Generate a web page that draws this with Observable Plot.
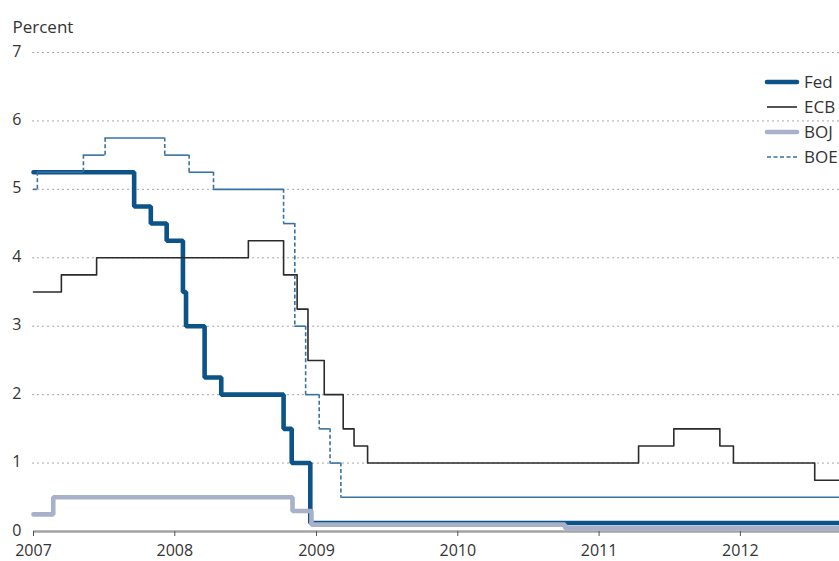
<!DOCTYPE html>
<html><head><meta charset="utf-8">
<script src="https://cdn.jsdelivr.net/npm/d3@7"></script>
<script src="https://cdn.jsdelivr.net/npm/@observablehq/plot@0.6"></script>
<style>
html,body{margin:0;padding:0;background:#fff;overflow:hidden;}
#wrap{position:relative;width:839px;height:561px;overflow:hidden;font-family:"Open Sans",sans-serif;}
#legend{position:absolute;left:0;top:0;pointer-events:none;}
</style></head><body><div id="wrap"></div>
<script>
const startDate = "2007-01-01";
const endDate = "2012-09-13";

const fedDates = ["2007-01-01","2007-09-18","2007-10-31","2007-12-11","2008-01-22","2008-01-30","2008-03-18","2008-04-30","2008-10-08","2008-10-29","2008-12-16"];
const fedRates = [5.25,4.75,4.5,4.25,3.5,3.0,2.25,2.0,1.5,1.0,0.125];

const ecbDates = ["2007-01-01","2007-03-14","2007-06-13","2008-07-09","2008-10-08","2008-11-12","2008-12-10","2009-01-21","2009-03-11","2009-04-08","2009-05-13","2011-04-13","2011-07-13","2011-11-09","2011-12-14","2012-07-11"];
const ecbRates = [3.5,3.75,4.0,4.25,3.75,3.25,2.5,2.0,1.5,1.25,1.0,1.25,1.5,1.25,1.0,0.75];

const bojDates = ["2007-01-01","2007-02-21","2008-10-31","2008-12-19","2010-10-05"];
const bojRates = [0.25,0.5,0.3,0.1,0.05];

const boeDates = ["2007-01-01","2007-01-11","2007-05-10","2007-07-05","2007-12-06","2008-02-07","2008-04-10","2008-10-08","2008-11-06","2008-12-04","2009-01-08","2009-02-05","2009-03-05"];
const boeRates = [5.0,5.25,5.5,5.75,5.5,5.25,5.0,4.5,3.0,2.0,1.5,1.0,0.5];

const yTicks = [0,1,2,3,4,5,6,7];
const xTicks = ["2007-01-01","2008-01-01","2009-01-01","2010-01-01","2011-01-01","2012-01-01"];
const xTickLabels = ["2007","2008","2009","2010","2011","2012"];

const seriesNames = ["Fed","ECB","BOJ","BOE"];
const seriesColors = ["#0c5388","#2b2b2b","#a8b1ca","#3872a3"];
const seriesWidths = [4.6,1.6,4.6,1.6];
const seriesDash = [null,null,null,"4,2.5"];

const textColor = "#333";

function steps(dates, rates) {
  const pts = dates.map((d, i) => ({date: new Date(d), rate: rates[i]}));
  pts.push({date: new Date(endDate), rate: rates[rates.length - 1]});
  return pts;
}
const fed = steps(fedDates, fedRates);
const ecb = steps(ecbDates, ecbRates);
const boj = steps(bojDates, bojRates);
const boeH = boeDates.map((d, i) => ({x1: new Date(d), x2: new Date(boeDates[i + 1] || endDate), y: boeRates[i]}));
const boeV = boeDates.slice(1).map((d, i) => ({x: new Date(d), y1: boeRates[i], y2: boeRates[i + 1]}));

const tickDates = xTicks.map(d => new Date(d));
const labelOf = new Map(xTicks.map((d, i) => [+new Date(d), xTickLabels[i]]));

const chart = Plot.plot({
  width: 839,
  height: 561,
  marginLeft: 33,
  marginRight: 0,
  marginTop: 52,
  marginBottom: 30,
  style: {fontFamily: "'Open Sans', sans-serif", fontSize: "17px", color: textColor, background: "white"},
  x: {type: "utc", domain: [new Date(startDate), new Date(endDate)]},
  y: {domain: [0, 7]},
  marks: [
    Plot.ruleY(yTicks.filter(d => d > 0), {stroke: "#a8a8a8", strokeWidth: 1, strokeDasharray: "2,3", insetLeft: -1}),
    Plot.ruleY([0], {stroke: "#a3a3a3", strokeWidth: 2.5}),
    Plot.axisY({ticks: yTicks, tickSize: 0, tickPadding: 12, label: null, tickFormat: d => String(d), fill: textColor, dy: -1, fontSize: 16}),
    Plot.axisX({ticks: tickDates, tickSize: 5, tickPadding: 8, label: null, tickFormat: d => labelOf.get(+d), stroke: "#555", fill: textColor, fontSize: 16}),
    Plot.line(fed, {x: "date", y: "rate", curve: "step-after", stroke: seriesColors[0], strokeWidth: seriesWidths[0], strokeLinejoin: "miter"}),
    Plot.line(ecb, {x: "date", y: "rate", curve: "step-after", stroke: seriesColors[1], strokeWidth: seriesWidths[1]}),
    Plot.line(boj, {x: "date", y: "rate", curve: "step-after", stroke: seriesColors[2], strokeWidth: seriesWidths[2], strokeLinejoin: "miter"}),
    Plot.ruleY(boeH, {x1: "x1", x2: "x2", y: "y", stroke: seriesColors[3], strokeWidth: seriesWidths[3]}),
    Plot.ruleX(boeV, {x: "x", y1: "y1", y2: "y2", stroke: seriesColors[3], strokeWidth: seriesWidths[3], strokeDasharray: seriesDash[3]}),
    Plot.text(["Percent"], {frameAnchor: "top-left", dx: -21, dy: -32, textAnchor: "start", fontSize: 17, fill: textColor})
  ]
});

const wrap = document.getElementById("wrap");
wrap.appendChild(chart);

// Legend overlay (top-right, clipped by the frame as in the original)
const leg = d3.select(wrap).append("svg").attr("id", "legend").attr("width", 839).attr("height", 200);
const rowY = [82, 107, 132, 157];
seriesNames.forEach((name, i) => {
  const g = leg.append("g").attr("transform", `translate(0,${rowY[i]})`);
  g.append("line").attr("x1", 767).attr("x2", 797).attr("y1", 0).attr("y2", 0)
    .attr("stroke", seriesColors[i]).attr("stroke-width", seriesWidths[i])
    .attr("stroke-linecap", seriesWidths[i] > 3 ? "round" : "butt")
    .attr("stroke-dasharray", seriesDash[i]);
  g.append("text").attr("x", 804).attr("y", 0).attr("dy", "0.35em")
    .attr("font-family", "'Open Sans', sans-serif").attr("font-size", 17)
    .attr("fill", textColor).text(name);
});
</script></body></html>
